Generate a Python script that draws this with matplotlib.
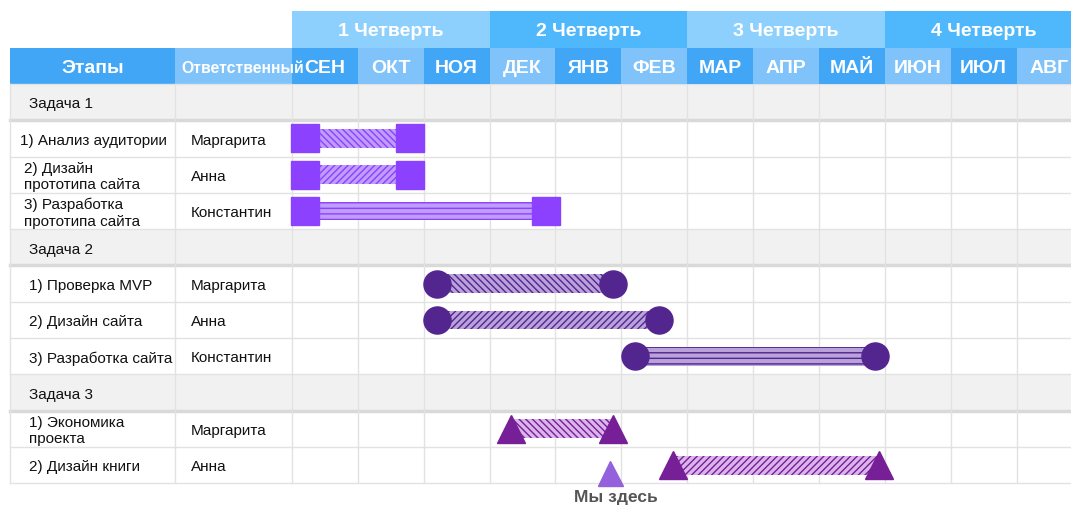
import numpy as np
import matplotlib
matplotlib.use("Agg")
import matplotlib.pyplot as plt
from matplotlib.patches import Rectangle

plt.rcParams['font.family'] = ['Liberation Sans', 'DejaVu Sans']
plt.rcParams['hatch.linewidth'] = 1.0

# данные
quarters = ['1 Четверть', '2 Четверть', '3 Четверть', '4 Четверть']
months = ['СЕН', 'ОКТ', 'НОЯ', 'ДЕК', 'ЯНВ', 'ФЕВ', 'МАР', 'АПР', 'МАЙ', 'ИЮН', 'ИЮЛ', 'АВГ']
row_labels = ['Задача 1', '1) Анализ аудитории', '2) Дизайн\nпрототипа сайта', '3) Разработка\nпрототипа сайта',
              'Задача 2', '1) Проверка MVP', '2) Дизайн сайта', '3) Разработка сайта',
              'Задача 3', '1) Экономика\nпроекта', '2) Дизайн книги']
responsible = ['', 'Маргарита', 'Анна', 'Константин',
               '', 'Маргарита', 'Анна', 'Константин',
               '', 'Маргарита', 'Анна']
group_rows = [0, 4, 8]
# начало / конец (в месяцах от начала сентября)
task_rows = [1, 2, 3, 5, 6, 7, 9, 10]
task_start = [0.20, 0.20, 0.20, 2.20, 2.20, 5.20, 3.33, 5.79]
task_end = [1.79, 1.79, 3.85, 4.87, 5.57, 8.85, 4.88, 8.91]
task_group = [0, 0, 0, 1, 1, 1, 2, 2]
now_month = 4.83
now_label = 'Мы здесь'

# стили по группам
marker_of = ['s', 'o', '^']
marker_size = [20, 19.5, 20]
color_of = ['#8b41fe', '#53258f', '#771f96']
bar_face = ['#c09cfd', '#b9a2da', '#dcb4ec']
hatch_of = [['\\\\\\\\\\', '/////', '---'], ['\\\\\\\\\\', '/////', '---'], ['\\\\\\\\\\', '/////']]

fig = plt.figure(figsize=(10.71, 5.07), dpi=100)
ax = fig.add_axes([0, 0, 1, 1])
ax.set_xlim(-4.433, 11.826)
ax.set_ylim(11.653, -2.314)
ax.axis('off')

left_edge = -4.281   # начало таблицы
col2 = -1.776        # колонка "Ответственный"
nrows = len(row_labels)
nmonths = len(months)
dy = 0.06            # сдвиг текста вниз

# шапка: четверти
q_colors = ['#8ed0fd', '#4fb8fc']
for i, q in enumerate(quarters):
    ax.add_patch(Rectangle((i * 3, -2), 3, 1, color=q_colors[i % 2], lw=0, zorder=1))
    ax.text(i * 3 + 1.5, -1.5 + dy, q, ha='center', va='center', color='white',
            fontsize=14, fontweight='bold', zorder=3)

# шапка: месяцы
m_colors = ['#42a6f7', '#80c3fa']
ax.add_patch(Rectangle((left_edge, -1), col2 - left_edge, 1, color=m_colors[0], lw=0, zorder=1))
ax.add_patch(Rectangle((col2, -1), -col2, 1, color=m_colors[1], lw=0, zorder=1))
ax.text((left_edge + col2) / 2, -0.5 + dy, 'Этапы', ha='center', va='center', color='white',
        fontsize=14, fontweight='bold', zorder=3)
ax.text(col2 + 0.1, -0.5 + dy, 'Ответственный', ha='left', va='center', color='white',
        fontsize=11.3, fontweight='bold', zorder=4)
for i, m in enumerate(months):
    ax.add_patch(Rectangle((i, -1), 1, 1, color=m_colors[i % 2], lw=0, zorder=2))
    ax.text(i + 0.5, -0.5 + dy, m, ha='center', va='center', color='white',
            fontsize=14, fontweight='bold', zorder=3)

# серые строки задач
for r in group_rows:
    ax.add_patch(Rectangle((left_edge, r), 20, 1, color='#f1f1f1', lw=0, zorder=0))

# сетка
grid_c = '#e2e2e2'
for r in range(nrows + 1):
    lw = 2.5 if (r - 1) in group_rows else 1.0
    c = '#d9d9d9' if (r - 1) in group_rows else grid_c
    ax.plot([left_edge, 12], [r, r], color=c, lw=lw, zorder=1)
for xv in [left_edge, col2] + list(range(nmonths + 1)):
    ax.plot([xv, xv], [0, nrows], color=grid_c, lw=1.0, zorder=1)

# подписи строк
label_x = {1: -4.13, 2: -4.07, 3: -4.07}
for r, lab in enumerate(row_labels):
    ax.text(label_x.get(r, -3.99), r + 0.5 + dy, lab, ha='left', va='center', fontsize=11,
            color='#111111', linespacing=1.2, zorder=3)
    if responsible[r]:
        ax.text(-1.533, r + 0.5 + dy, responsible[r], ha='left', va='center', fontsize=11,
                color='#111111', zorder=3)

# полосы и маркеры
counter = [0, 0, 0]
for r, s, e, g in zip(task_rows, task_start, task_end, task_group):
    h = hatch_of[g][counter[g]]
    counter[g] += 1
    ax.barh(r + 0.5, e - s, left=s, height=0.52, color=bar_face[g], edgecolor=color_of[g],
            hatch=h, lw=0, zorder=4)
    ax.plot([s, e], [r + 0.5, r + 0.5], ls='none', marker=marker_of[g], ms=marker_size[g],
            color=color_of[g], mec=color_of[g], zorder=5)

# "Мы здесь"
ax.plot([now_month], [10.72], ls='none', marker='^', ms=18, color='#9460db', zorder=5)
ax.text(now_month + 0.09, 11.4, now_label, ha='center', va='center', fontsize=12.5,
        fontweight='bold', color='#555555', zorder=5)

fig.savefig('out.png', dpi=100)
